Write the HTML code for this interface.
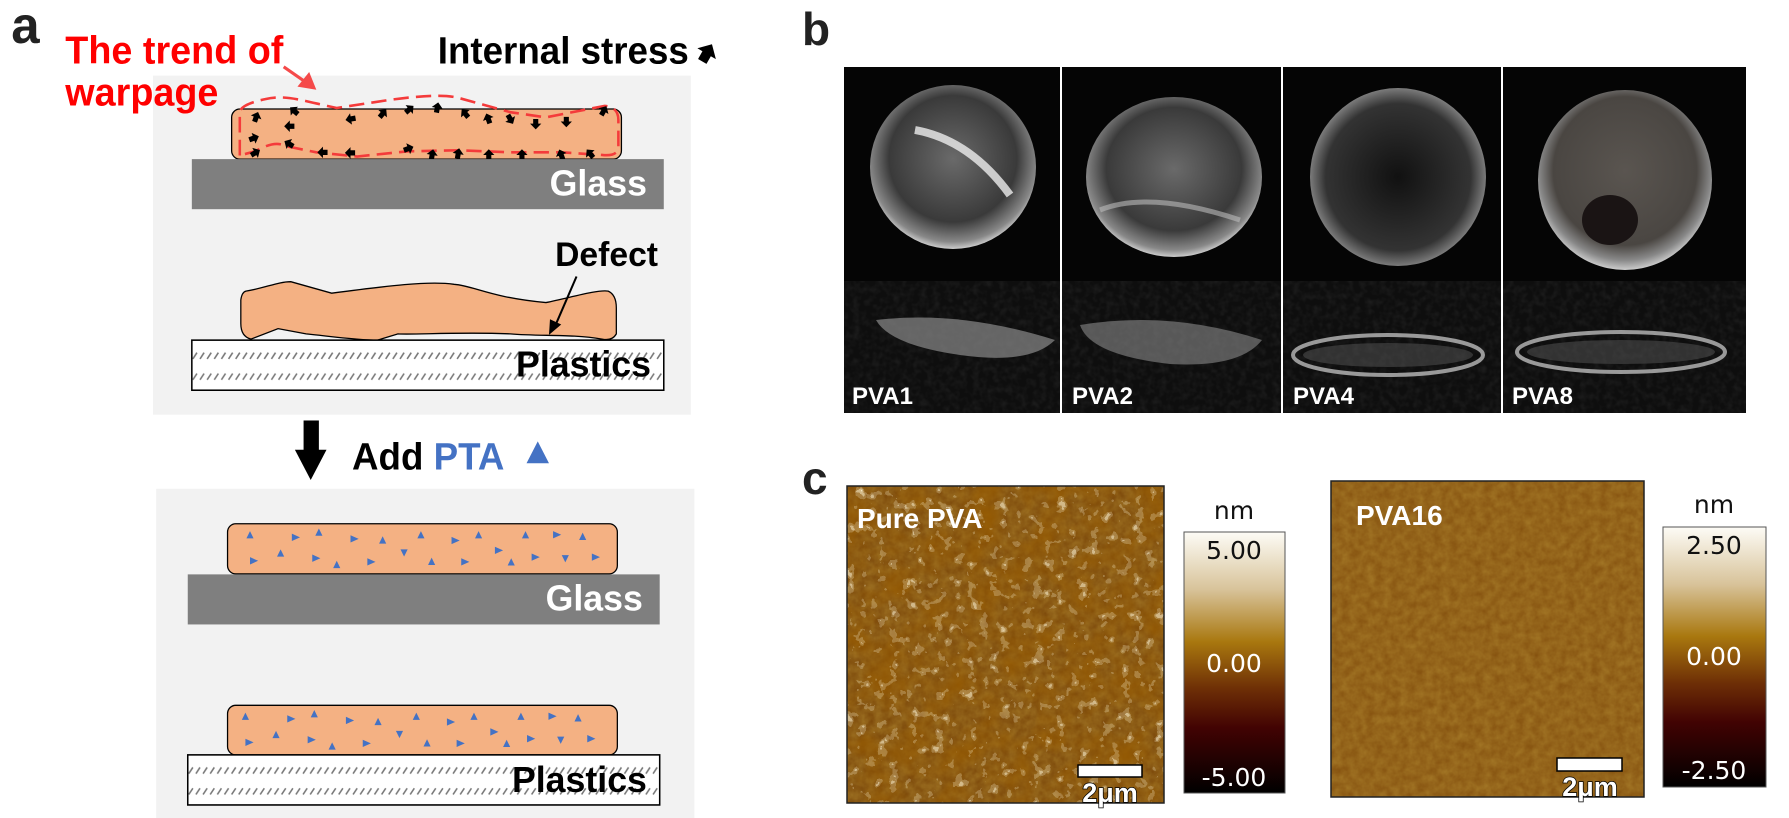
<!DOCTYPE html>
<html><head><meta charset="utf-8"><style>
html,body{margin:0;padding:0;background:#fff;}
body{width:1789px;height:818px;position:relative;overflow:hidden;font-family:"Liberation Sans",Arial,sans-serif;}
svg{position:absolute;left:0;top:0;}
</style></head><body>
<svg width="800" height="818" viewBox="0 0 1568 1568" preserveAspectRatio="none" style="left:0;top:0">
<defs>
<pattern id="hatch" width="14" height="96" patternUnits="userSpaceOnUse" x="376" y="652">
<rect width="14" height="96" fill="#fff"/>
<line x1="2" y1="36" x2="10" y2="24" stroke="#777" stroke-width="3"/>
<line x1="2" y1="76" x2="10" y2="64" stroke="#777" stroke-width="3"/>
</pattern>
<pattern id="hatch2" width="14" height="96" patternUnits="userSpaceOnUse" x="368" y="1447">
<rect width="14" height="96" fill="#fff"/>
<line x1="2" y1="36" x2="10" y2="24" stroke="#777" stroke-width="3"/>
<line x1="2" y1="76" x2="10" y2="64" stroke="#777" stroke-width="3"/>
</pattern>
<polygon id="ar" points="-9,5 -9,-5 0,-5 0,-11 11,0 0,11 0,5" fill="#000"/>
<g id="tris" fill="#4472c4">
<polygon points="483,1032 497,1032 490,1018"/><polygon points="572,1023 572,1037 588,1030"/><polygon points="618,1027 632,1027 625,1013"/>
<polygon points="687,1026 687,1040 703,1033"/><polygon points="743,1042 757,1042 750,1028"/><polygon points="818,1032 832,1032 825,1018"/>
<polygon points="885,1029 885,1043 901,1036"/><polygon points="931,1032 945,1032 938,1018"/><polygon points="970,1048 970,1062 986,1055"/>
<polygon points="1023,1032 1037,1032 1030,1018"/><polygon points="1084,1018 1084,1032 1100,1025"/><polygon points="1135,1035 1149,1035 1142,1021"/>
<polygon points="490,1068 490,1082 506,1075"/><polygon points="543,1067 557,1067 550,1053"/><polygon points="612,1063 612,1077 628,1070"/>
<polygon points="653,1089 667,1089 660,1075"/><polygon points="720,1070 720,1084 736,1077"/><polygon points="785,1053 799,1053 792,1067"/>
<polygon points="839,1083 853,1083 846,1069"/><polygon points="904,1070 904,1084 920,1077"/><polygon points="995,1084 1009,1084 1002,1070"/>
<polygon points="1042,1061 1042,1075 1058,1068"/><polygon points="1101,1064 1115,1064 1108,1078"/><polygon points="1160,1061 1160,1075 1176,1068"/>
</g>
</defs>
<text x="22" y="82" font-size="100" font-weight="bold" fill="#222">a</text>
<rect x="300" y="145" width="1054" height="650" fill="#f2f2f2"/>
<rect x="306" y="937" width="1055" height="640" fill="#f2f2f2"/>
<text x="128" y="122" font-size="74" font-weight="bold" fill="#ff0000">The trend of</text>
<text x="128" y="202" font-size="74" font-weight="bold" fill="#ff0000">warpage</text>
<line x1="556" y1="128" x2="600" y2="158" stroke="#f54a4a" stroke-width="6"/>
<polygon points="620,172 583,166 606,138" fill="#f54a4a"/>
<text x="858" y="122" font-size="72" font-weight="bold" fill="#000">Internal stress</text>
<use href="#ar" transform="translate(1385,103) rotate(-60) scale(1.9)"/>
<rect x="454" y="209" width="764" height="96" rx="16" fill="#f4b183" stroke="#000" stroke-width="2.5"/>
<path d="M470,298 L470,215 Q472,200 520,190 C560,180 600,195 660,207 L760,192 C820,184 870,180 900,188 L1000,215 L1070,225 L1185,203 Q1212,205 1212,230 L1212,285 Q1208,300 1180,297 L1100,292 L1000,292 L900,288 L800,290 L700,300 L620,292 L560,280 C540,270 520,280 500,290 Z" fill="none" stroke="#f43b3b" stroke-width="5" stroke-dasharray="30,14"/>
<g>
<use href="#ar" transform="translate(502,225) rotate(-70)"/><use href="#ar" transform="translate(577,213) rotate(-140)"/>
<use href="#ar" transform="translate(688,228) rotate(170)"/><use href="#ar" transform="translate(750,218) rotate(-50)"/>
<use href="#ar" transform="translate(802,210) rotate(-40)"/><use href="#ar" transform="translate(857,207) rotate(-80)"/>
<use href="#ar" transform="translate(912,218) rotate(-130)"/><use href="#ar" transform="translate(957,228) rotate(-110)"/>
<use href="#ar" transform="translate(1000,228) rotate(60)"/><use href="#ar" transform="translate(1050,237) rotate(90)"/>
<use href="#ar" transform="translate(1110,233) rotate(90)"/><use href="#ar" transform="translate(1183,213) rotate(-60)"/>
<use href="#ar" transform="translate(568,242) rotate(180)"/><use href="#ar" transform="translate(497,265) rotate(-20)"/>
<use href="#ar" transform="translate(567,276) rotate(-150)"/><use href="#ar" transform="translate(500,293) rotate(-30)"/>
<use href="#ar" transform="translate(633,292) rotate(180)"/><use href="#ar" transform="translate(687,293) rotate(180)"/>
<use href="#ar" transform="translate(800,285) rotate(-20)"/><use href="#ar" transform="translate(847,297) rotate(-80)"/>
<use href="#ar" transform="translate(898,295) rotate(-80)"/><use href="#ar" transform="translate(958,297) rotate(-90)"/>
<use href="#ar" transform="translate(1023,297) rotate(-90)"/><use href="#ar" transform="translate(1100,297) rotate(-110)"/>
<use href="#ar" transform="translate(1157,295) rotate(-130)"/>
</g>
<rect x="376" y="305" width="925" height="96" fill="#7f7f7f"/>
<text x="1268" y="375" font-size="70" font-weight="bold" fill="#fff" text-anchor="end">Glass</text>
<path d="M482,558 C520,552 545,540 570,540 L650,562 C760,548 840,538 890,545 C930,548 960,570 1070,580 C1120,570 1170,555 1192,558 Q1208,565 1208,590 L1208,640 Q1200,654 1180,650 C1120,640 1060,645 1000,640 C900,636 810,642 780,640 L740,652 C700,652 650,645 600,640 L545,630 L492,650 Q472,645 472,620 L472,575 Q474,560 482,558 Z" fill="#f4b183" stroke="#000" stroke-width="2.5"/>
<rect x="376" y="652" width="925" height="96" fill="url(#hatch)" stroke="#000" stroke-width="3"/>
<text x="1276" y="722" font-size="70" font-weight="bold" fill="#000" text-anchor="end">Plastics</text>
<text x="1088" y="510" font-size="66" font-weight="bold" fill="#000">Defect</text>
<line x1="1130" y1="530" x2="1088" y2="625" stroke="#000" stroke-width="4"/>
<polygon points="1076,642 1078,612 1100,622" fill="#000"/>
<rect x="595" y="806" width="30" height="62" fill="#000"/>
<polygon points="578,862 640,862 609,920" fill="#000"/>
<text x="690" y="900" font-size="72" font-weight="bold" fill="#000">Add <tspan fill="#4472c4">PTA</tspan></text>
<polygon points="1032,888 1076,888 1054,846" fill="#4472c4"/>
<rect x="446" y="1004" width="764" height="96" rx="16" fill="#f4b183" stroke="#000" stroke-width="2.5"/>
<use href="#tris"/>
<rect x="368" y="1101" width="925" height="96" fill="#7f7f7f"/>
<text x="1260" y="1170" font-size="70" font-weight="bold" fill="#fff" text-anchor="end">Glass</text>
<rect x="446" y="1352" width="764" height="95" rx="16" fill="#f4b183" stroke="#000" stroke-width="2.5"/>
<use href="#tris" transform="translate(-9,348)"/>
<rect x="368" y="1447" width="925" height="96" fill="url(#hatch2)" stroke="#000" stroke-width="3"/>
<text x="1268" y="1518" font-size="70" font-weight="bold" fill="#000" text-anchor="end">Plastics</text>
</svg>

<svg width="1789" height="818" style="left:0;top:0;pointer-events:none" viewBox="0 0 1789 818">
<defs>
<radialGradient id="dish" cx="50%" cy="45%" r="55%"><stop offset="0" stop-color="#6a6a6a"/><stop offset="0.7" stop-color="#3a3a3a"/><stop offset="0.92" stop-color="#888"/><stop offset="1" stop-color="#ccc"/></radialGradient>
<radialGradient id="dish4" cx="50%" cy="50%" r="55%"><stop offset="0" stop-color="#111"/><stop offset="0.75" stop-color="#333"/><stop offset="0.9" stop-color="#777"/><stop offset="1" stop-color="#bbb"/></radialGradient>
<radialGradient id="dish8" cx="50%" cy="45%" r="55%"><stop offset="0" stop-color="#5a5550"/><stop offset="0.75" stop-color="#4a4642"/><stop offset="0.9" stop-color="#888"/><stop offset="1" stop-color="#ccc"/></radialGradient>
<linearGradient id="cb" x1="0" y1="0" x2="0" y2="1">
<stop offset="0" stop-color="#fdfcf6"/><stop offset="0.22" stop-color="#d8c39a"/><stop offset="0.42" stop-color="#a9780f"/><stop offset="0.6" stop-color="#6e2f06"/><stop offset="0.75" stop-color="#420303"/><stop offset="1" stop-color="#000"/>
</linearGradient>
<filter id="afm1" x="0" y="0" width="100%" height="100%">
<feTurbulence type="fractalNoise" baseFrequency="0.09" numOctaves="3" seed="4"/>
<feColorMatrix type="matrix" values="0 0 0 0 0  0 0 0 0 0  0 0 0 0 0  1.2 0 0 0 -0.25"/>
<feComponentTransfer><feFuncA type="discrete" tableValues="0 0 0 0.25 0.6 1"/></feComponentTransfer>
<feColorMatrix type="matrix" values="0 0 0 0 1  0 0 0 0 0.93  0 0 0 0 0.7  0 0 0 1 0"/>
</filter>
<filter id="afmdark" x="0" y="0" width="100%" height="100%">
<feTurbulence type="fractalNoise" baseFrequency="0.03" numOctaves="3" seed="11"/>
<feColorMatrix type="matrix" values="0 0 0 0 0.3  0 0 0 0 0.1  0 0 0 0 0  1.6 0 0 0 -0.6"/>
</filter>
<filter id="afm2" x="0" y="0" width="100%" height="100%">
<feTurbulence type="fractalNoise" baseFrequency="0.12" numOctaves="3" seed="7"/>
<feColorMatrix type="matrix" values="0 0 0 0 0.55  0 0 0 0 0.35  0 0 0 0 0.05  0 0 0 0.5 0"/>
</filter>
<filter id="dk" x="0" y="0" width="100%" height="100%">
<feTurbulence type="fractalNoise" baseFrequency="0.15" numOctaves="2" seed="3"/>
<feColorMatrix type="matrix" values="0 0 0 0 0.5  0 0 0 0 0.5  0 0 0 0 0.5  0.8 0 0 0 -0.3"/>
</filter>
</defs>
<text x="802" y="45" font-size="46" font-weight="bold" fill="#222">b</text>
<rect x="844" y="67" width="902" height="346" fill="#050505"/>
<rect x="844" y="281" width="902" height="132" fill="#0e0e0e"/>
<rect x="844" y="281" width="902" height="132" filter="url(#dk)" opacity="0.2"/>
<ellipse cx="953" cy="167" rx="83" ry="82" fill="url(#dish)"/>
<path d="M915,130 Q970,140 1010,195" stroke="#eee" stroke-width="8" fill="none" opacity="0.8"/>
<ellipse cx="1174" cy="177" rx="88" ry="80" fill="url(#dish)"/>
<path d="M1100,210 Q1150,190 1240,220" stroke="#bbb" stroke-width="5" fill="none" opacity="0.6"/>
<ellipse cx="1398" cy="177" rx="88" ry="89" fill="url(#dish4)"/>
<ellipse cx="1625" cy="180" rx="87" ry="90" fill="url(#dish8)"/>
<ellipse cx="1610" cy="220" rx="28" ry="25" fill="#1a1414"/>
<path d="M876,320 Q960,310 1055,340 Q1030,365 960,355 Q890,345 876,320Z" fill="#8a8a8a" opacity="0.7"/>
<path d="M1080,325 Q1170,310 1262,340 Q1240,368 1170,364 Q1090,355 1080,325Z" fill="#8a8a8a" opacity="0.6"/>
<ellipse cx="1388" cy="355" rx="95" ry="20" fill="none" stroke="#bbb" stroke-width="4" opacity="0.8"/>
<ellipse cx="1388" cy="355" rx="85" ry="12" fill="#555" opacity="0.5"/>
<ellipse cx="1621" cy="352" rx="104" ry="20" fill="none" stroke="#bbb" stroke-width="4" opacity="0.8"/>
<ellipse cx="1621" cy="352" rx="94" ry="12" fill="#555" opacity="0.5"/>
<rect x="1060" y="67" width="2" height="346" fill="#fff"/>
<rect x="1281" y="67" width="2" height="346" fill="#fff"/>
<rect x="1501" y="67" width="2" height="346" fill="#fff"/>
<g font-size="24" font-weight="bold" fill="#fff">
<text x="852" y="404">PVA1</text><text x="1072" y="404">PVA2</text><text x="1293" y="404">PVA4</text><text x="1512" y="404">PVA8</text>
</g>
<text x="802" y="494" font-size="46" font-weight="bold" fill="#222">c</text>
<rect x="847" y="486" width="317" height="317" fill="#7a4608"/>
<rect x="847" y="486" width="317" height="317" filter="url(#afm2)"/>
<rect x="847" y="486" width="317" height="317" filter="url(#afmdark)"/>
<rect x="847" y="486" width="317" height="317" filter="url(#afm1)"/>
<rect x="847" y="486" width="317" height="317" fill="none" stroke="#222" stroke-width="1.5"/>
<text x="857" y="528" font-size="28" font-weight="bold" fill="#fff">Pure PVA</text>
<rect x="1078" y="765" width="64" height="12" fill="#fff" stroke="#000" stroke-width="1.5"/>
<text x="1110" y="802" font-size="27" font-weight="bold" fill="#fff" stroke="#000" stroke-width="1.5" paint-order="stroke" text-anchor="middle">2μm</text>
<rect x="1184" y="532" width="101" height="261" fill="url(#cb)" stroke="#555" stroke-width="1"/>
<g font-family="'DejaVu Sans','Liberation Sans',sans-serif" font-size="25" text-anchor="middle">
<text x="1234" y="519" fill="#111">nm</text>
<text x="1234" y="559" fill="#111">5.00</text>
<text x="1234" y="672" fill="#fff">0.00</text>
<text x="1234" y="786" fill="#fff">-5.00</text>
</g>
<rect x="1331" y="481" width="313" height="316" fill="#84500e"/>
<rect x="1331" y="481" width="313" height="316" filter="url(#afm2)"/>
<rect x="1331" y="481" width="313" height="316" fill="none" stroke="#222" stroke-width="1.5"/>
<text x="1356" y="525" font-size="28" font-weight="bold" fill="#fff">PVA16</text>
<rect x="1557" y="758" width="65" height="13" fill="#fff" stroke="#000" stroke-width="1.5"/>
<text x="1590" y="796" font-size="27" font-weight="bold" fill="#fff" stroke="#000" stroke-width="1.5" paint-order="stroke" text-anchor="middle">2μm</text>
<rect x="1663" y="527" width="103" height="260" fill="url(#cb)" stroke="#555" stroke-width="1"/>
<g font-family="'DejaVu Sans','Liberation Sans',sans-serif" font-size="25" text-anchor="middle">
<text x="1714" y="513" fill="#111">nm</text>
<text x="1714" y="554" fill="#111">2.50</text>
<text x="1714" y="665" fill="#fff">0.00</text>
<text x="1714" y="779" fill="#fff">-2.50</text>
</g>
</svg>
</body></html>
